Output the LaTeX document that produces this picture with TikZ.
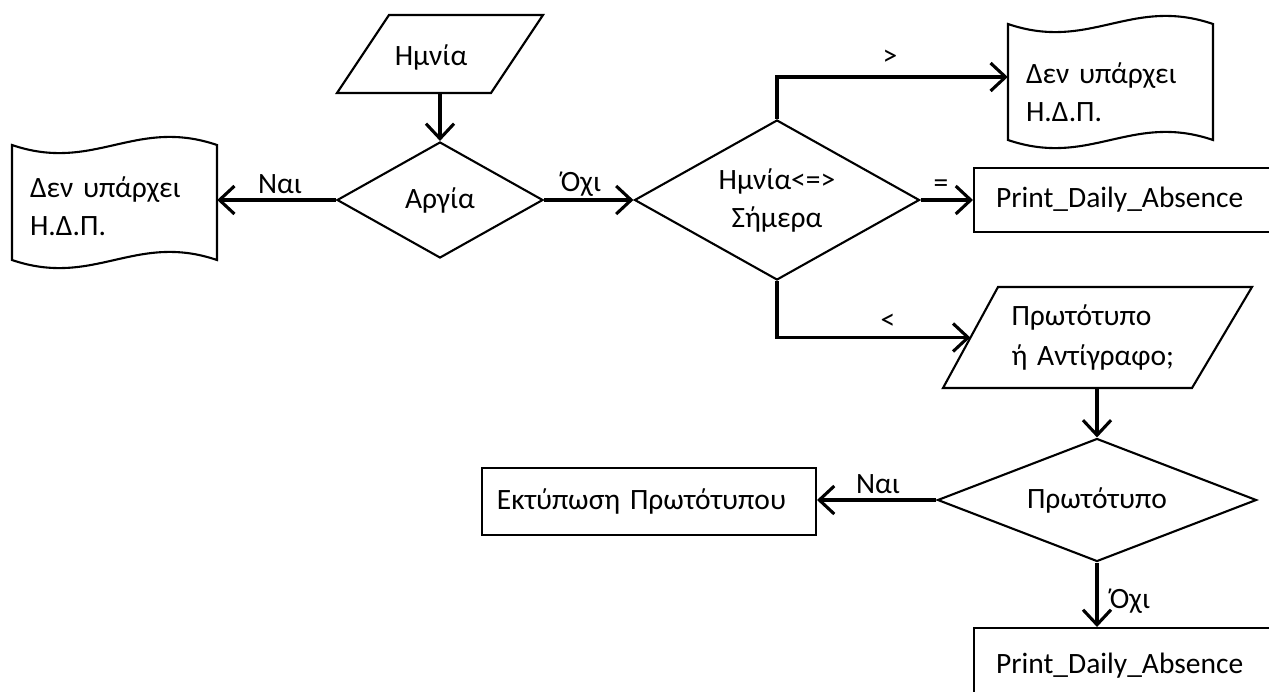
\documentclass[tikz,border=0pt]{standalone}
\usepackage{fontspec}
\setmainfont{Carlito}
\usetikzlibrary{shapes.geometric,arrows.meta,calc}
\begin{document}
\begin{tikzpicture}[x=1pt,y=-1pt,
  every node/.style={font=\fontsize{29.5}{38}\selectfont, inner sep=0pt},
  shp/.style={draw=black, line width=2.1pt, line join=miter},
  inv/.style={draw=none, inner sep=0pt},
  decision/.style n args={3}{shp, diamond, minimum width=#1, minimum height=#2, shape aspect=#3, inner sep=0pt, align=center},
  proc/.style={shp, rectangle, align=left},
  lbl/.style={inner sep=0pt},
  arr/.style={draw=black, line width=3.1pt, -{Straight Barb[length=15pt,width=28pt]}},
]
\useasboundingbox (0,0) rectangle (1269,691);
\clip (0,0) rectangle (1269,691);

% input Ημνία
\node[inv, minimum width=206, minimum height=78] (h1) at (440,54) {};
\draw[shp] (389,15) -- (543,15) -- (491,93) -- (337,93) -- cycle;
\node (h1t) at (431,57) {Ημνία};

% decision Αργία
\node[decision={206}{116}{1.78}] (a1) at (440,200) {Αργία};

% left tape document
\draw[shp] (12,145) .. controls (94,173) and (135,117) .. (217,145) -- (217,260)
  .. controls (135,232) and (94,288) .. (12,260) -- cycle;
\node[inv, minimum width=205, text width=169, inner xsep=18, align=left] (d1) at (114.5,206) {Δεν υπάρχει\\Η.Δ.Π.};

% decision Ημνία<=> Σήμερα
\node[decision={285}{160}{1.78}] (a2) at (777,200) {Ημνία<=>\\Σήμερα};

% upper right tape document
\draw[shp] (1008,24) .. controls (1090,52) and (1131,-4) .. (1213,24) -- (1213,140)
  .. controls (1131,112) and (1090,168) .. (1008,140) -- cycle;
\node[inv, minimum width=205, text width=169, inner xsep=18, align=left] (d2) at (1110.5,92) {Δεν υπάρχει\\Η.Δ.Π.};

% process Print_Daily_Absence (upper)
\node[proc, anchor=west, minimum height=64, text width=290, inner xsep=22] (r1) at (973,200) {Print\_Daily\_Absence};

% input Πρωτότυπο ή Αντίγραφο;
\node[inv, minimum width=252, minimum height=101, text width=170, inner xsep=41, align=left, font=\fontsize{29.5}{40}\selectfont] (p2) at (1096.5,337.5) {Πρωτότυπο\\ή Αντίγραφο;};
\draw[shp] (998,287) -- (1252,287) -- (1192,388) -- (943,388) -- cycle;

% decision Πρωτότυπο
\node[decision={319}{123}{2.6}] (a3) at (1097,500) {Πρωτότυπο};

% process Εκτύπωση Πρωτότυπου
\node[proc, anchor=east, minimum height=67, text width=304, inner xsep=15] (r2) at (817,501.5) {Εκτύπωση Πρωτότυπου};

% process Print_Daily_Absence (lower)
\node[proc, anchor=north west, minimum height=76, text width=290, inner xsep=22] (r3) at (973,627) {Print\_Daily\_Absence};

% connectors
\draw[arr] (h1.south -| a1.north) -- (a1.north);
\draw[arr] (a1.west) -- (a1.west -| d1.east);
\draw[arr] (a1.east) -- (a2.west);
\draw[arr] (a2.north) |- ([yshift=15pt]d2.west);
\draw[arr] (a2.east) -- (r1.west);
\draw[arr] (a2.south) |- (p2.west);
\draw[arr] (p2.south -| a3.north) -- (a3.north);
\draw[arr] (a3.west) -- (a3.west -| r2.east);
\draw[arr] (a3.south) -- (r3.north -| a3.south);

% labels
\node[lbl] (l1) at (280,184) {Ναι};
\node[lbl] (l2) at (581,184) {Όχι};
\node[lbl] (l3) at (890,58) {>};
\node[lbl] (l4) at (941,186) {=};
\node[lbl] (l5) at (888,322) {<};
\node[lbl] (l6) at (878,484) {Ναι};
\node[lbl] (l7) at (1130,601) {Όχι};
\end{tikzpicture}
\end{document}
